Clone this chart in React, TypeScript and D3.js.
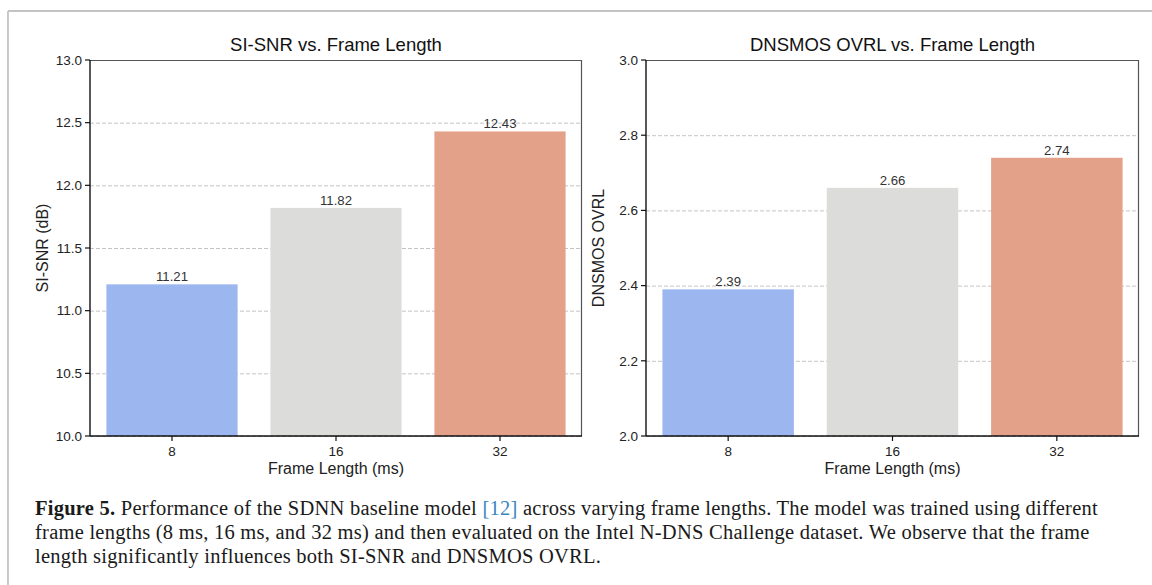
import React, { useEffect, useRef } from 'react';
import * as d3 from 'd3';

const frameLengths = ['8', '16', '32'];
const siSnrValues = [11.21, 11.82, 12.43];
const dnsmosValues = [2.39, 2.66, 2.74];
const siSnrTicks = [10.0, 10.5, 11.0, 11.5, 12.0, 12.5, 13.0];
const dnsmosTicks = [2.0, 2.2, 2.4, 2.6, 2.8, 3.0];

const barColors = ['#9cb6ef', '#dcdcda', '#e4a18a'];

const captionLines = [
  [
    { t: 'Figure 5.', bold: true },
    { t: ' Performance of the SDNN baseline model ' },
    { t: '[12]', link: true },
    { t: ' across varying frame lengths. The model was trained using different' },
  ],
  [{ t: 'frame lengths (8 ms, 16 ms, and 32 ms) and then evaluated on the Intel N-DNS Challenge dataset. We observe that the frame' }],
  [{ t: 'length significantly influences both SI-SNR and DNSMOS OVRL.' }],
];

const W = 1152;
const H = 585;
const SANS = '"Liberation Sans", Arial, sans-serif';
const SERIF = '"Liberation Serif", "Times New Roman", serif';

const App = () => {
  const svgRef = useRef<SVGSVGElement>(null);

  useEffect(() => {
    const svg = d3.select(svgRef.current);
    svg.selectAll('*').remove();

    // page frame (top + left rule)
    svg.append('line').attr('x1', 8).attr('x2', W).attr('y1', 11).attr('y2', 11)
      .attr('stroke', '#b0b0b0').attr('stroke-width', 1.6);
    svg.append('line').attr('x1', 8).attr('x2', 8).attr('y1', 11).attr('y2', H)
      .attr('stroke', '#c4c4c4').attr('stroke-width', 1.8);

    const drawPanel = (
      left: number, right: number, values: number[], ticks: number[],
      fmt: (v: number) => string, title: string, yLabel: string
    ) => {
      const top = 60, bottom = 436;
      const x = d3.scaleBand().domain(frameLengths).range([left, right]).paddingInner(0.2).paddingOuter(0.1);
      const y = d3.scaleLinear().domain([ticks[0], ticks[ticks.length - 1]]).range([bottom, top]);
      const g = svg.append('g');

      // grid
      g.selectAll('.grid').data(ticks).enter().append('line')
        .attr('x1', left).attr('x2', right)
        .attr('y1', d => y(d) + 0.5).attr('y2', d => y(d) + 0.5)
        .attr('stroke', '#bdbdbd').attr('stroke-width', 0.9)
        .attr('stroke-dasharray', '4,2');

      // bars
      g.selectAll('.bar').data(values).enter().append('rect')
        .attr('x', (d, i) => x(frameLengths[i])!)
        .attr('width', x.bandwidth())
        .attr('y', d => y(d))
        .attr('height', d => bottom - y(d))
        .attr('fill', (d, i) => barColors[i]);

      // value labels
      g.selectAll('.val').data(values).enter().append('text')
        .attr('x', (d, i) => x(frameLengths[i])! + x.bandwidth() / 2)
        .attr('y', d => y(d) - 3)
        .attr('text-anchor', 'middle')
        .style('font-family', SANS).style('font-size', '13.2px').style('fill', '#333')
        .text(d => fmt(d));

      // spines
      g.append('line').attr('x1', left).attr('x2', right).attr('y1', top + 0.5).attr('y2', top + 0.5)
        .attr('stroke', '#555').attr('stroke-width', 1);
      g.append('line').attr('x1', right - 0.5).attr('x2', right - 0.5).attr('y1', top).attr('y2', bottom)
        .attr('stroke', '#555').attr('stroke-width', 1.2);
      g.append('line').attr('x1', left).attr('x2', left).attr('y1', top).attr('y2', bottom)
        .attr('stroke', '#111').attr('stroke-width', 1.4);
      g.append('line').attr('x1', left).attr('x2', right).attr('y1', bottom).attr('y2', bottom)
        .attr('stroke', '#111').attr('stroke-width', 1.4);

      // y ticks
      g.selectAll('.yt').data(ticks).enter().append('line')
        .attr('x1', left - 5).attr('x2', left).attr('y1', d => y(d)).attr('y2', d => y(d))
        .attr('stroke', '#111').attr('stroke-width', 1.2);
      g.selectAll('.yl').data(ticks).enter().append('text')
        .attr('x', left - 8).attr('y', d => y(d)).attr('dy', '0.35em')
        .attr('text-anchor', 'end')
        .style('font-family', SANS).style('font-size', '13.5px').style('fill', '#222')
        .text(d => d.toFixed(1));

      // x ticks
      g.selectAll('.xt').data(frameLengths).enter().append('line')
        .attr('x1', d => x(d)! + x.bandwidth() / 2).attr('x2', d => x(d)! + x.bandwidth() / 2)
        .attr('y1', bottom).attr('y2', bottom + 5)
        .attr('stroke', '#111').attr('stroke-width', 1.2);
      g.selectAll('.xl').data(frameLengths).enter().append('text')
        .attr('x', d => x(d)! + x.bandwidth() / 2).attr('y', 456)
        .attr('text-anchor', 'middle')
        .style('font-family', SANS).style('font-size', '13.5px').style('fill', '#222')
        .text(d => d);

      // labels
      g.append('text').attr('x', (left + right) / 2).attr('y', 474).attr('text-anchor', 'middle')
        .style('font-family', SANS).style('font-size', '16px').style('fill', '#222')
        .text('Frame Length (ms)');
      g.append('text')
        .attr('transform', `translate(${left - 42},${(top + bottom) / 2}) rotate(-90)`)
        .attr('text-anchor', 'middle')
        .style('font-family', SANS).style('font-size', '16px').style('fill', '#222')
        .text(yLabel);
      g.append('text').attr('x', (left + right) / 2).attr('y', 51).attr('text-anchor', 'middle')
        .style('font-family', SANS).style('font-size', '18.5px').style('fill', '#111')
        .text(title);
    };

    drawPanel(90, 582, siSnrValues, siSnrTicks, v => v.toFixed(2), 'SI-SNR vs. Frame Length', 'SI-SNR (dB)');
    drawPanel(646, 1139, dnsmosValues, dnsmosTicks, v => v.toFixed(2), 'DNSMOS OVRL vs. Frame Length', 'DNSMOS OVRL');

    // caption
    const baselines = [515, 539, 563];
    captionLines.forEach((parts, i) => {
      const t = svg.append('text').attr('x', 35).attr('y', baselines[i])
        .style('font-family', SERIF).style('font-size', '20.5px').style('letter-spacing', '0.25px')
        .style('fill', '#1a1a1a');
      parts.forEach((p: any) => {
        t.append('tspan')
          .style('font-weight', p.bold ? 'bold' : 'normal')
          .style('fill', p.link ? '#3a86c0' : '#1a1a1a')
          .text(p.t);
      });
    });
  }, []);

  return (
    <svg ref={svgRef} width={W} height={H}
      style={{ position: 'absolute', left: 0, top: 0, background: '#fff', whiteSpace: 'pre' }} />
  );
};

export default App;
